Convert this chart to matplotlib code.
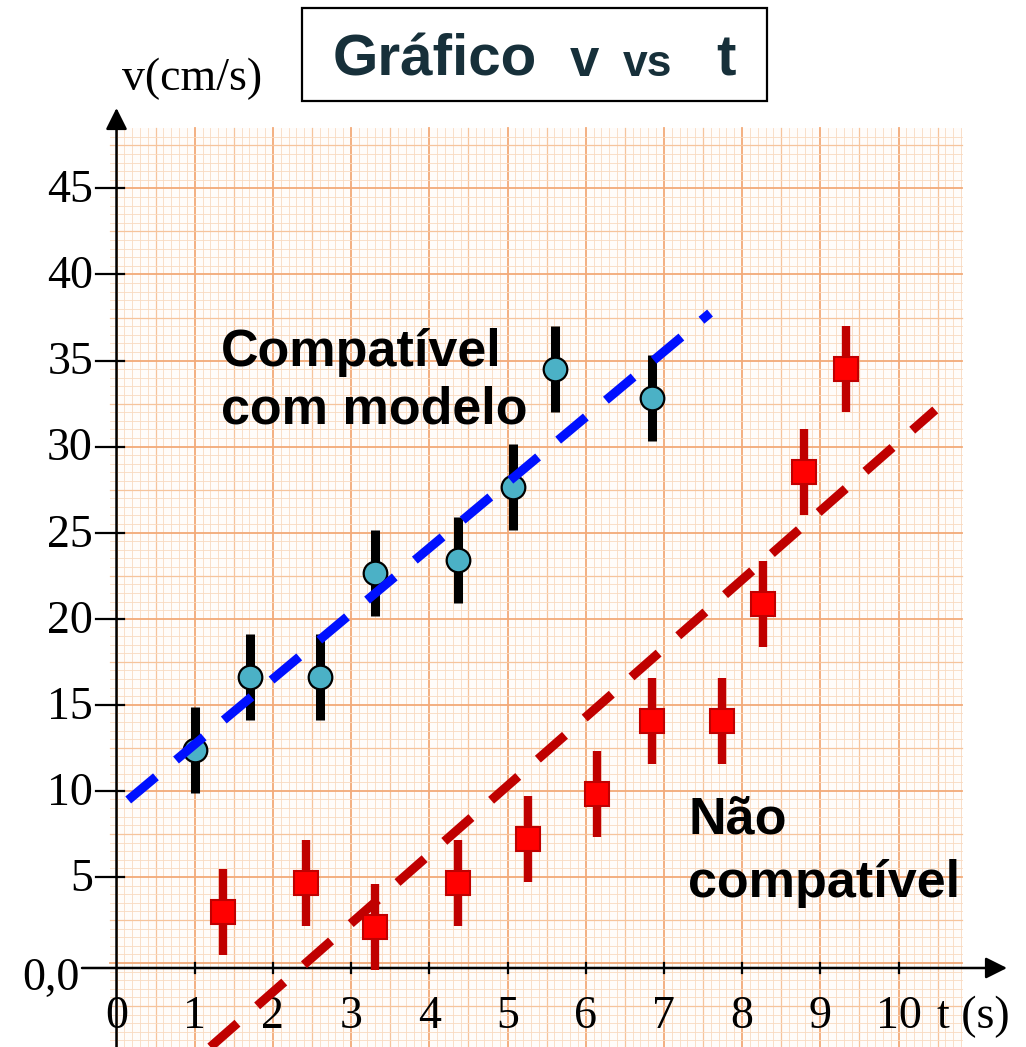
"""
Grafico v vs t on graph paper: compatible vs non-compatible data sets.
"""
import numpy as np
import matplotlib
matplotlib.use("Agg")
import matplotlib.pyplot as plt
from matplotlib.patches import Rectangle

W, H = 1026, 1047

# data (t in s, v in cm/s)
t_comp = [1.00, 1.71, 2.60, 3.31, 4.37, 5.07, 5.61, 6.85]
v_comp = [12.37, 16.62, 16.62, 22.66, 23.41, 27.65, 34.51, 32.82]
t_nao = [1.36, 2.42, 3.31, 4.37, 5.26, 6.14, 6.85, 7.74, 8.27, 8.79, 9.33]
v_nao = [2.96, 4.65, 2.09, 4.65, 7.20, 9.82, 14.06, 14.06, 20.86, 28.53, 34.51]
v_err = 2.5

fit_comp_t = [0.15, 7.59]
fit_comp_v = [9.47, 37.76]
fit_nao_t = [1.20, 10.47]
fit_nao_v = [-4.88, 32.13]

x_ticks = list(range(0, 11))
x_labels = ["0", "1", "2", "3", "4", "5", "6", "7", "8", "9", "10"]
y_ticks = [5, 10, 15, 20, 25, 30, 35, 40, 45]
y_labels = ["5", "10", "15", "20", "25", "30", "35", "40", "45"]

# pixel scale of the drawing
PX_T = 78.2      # px per second
PX_V = 17.213    # px per cm/s
X0, Y0 = 116.5, 963.0
AXIS_V = -0.29   # hand-drawn time axis sits a little under v = 0

def fx(px):
    return px / W

def fy(py):
    return 1 - py / H

SERIF = "Liberation Serif"
SANS = "Liberation Sans"

fig = plt.figure(figsize=(W / 100, H / 100), dpi=100)
ax = fig.add_axes([0, 0, 1, 1])
ax.set_xlim(-X0 / PX_T, (W - X0) / PX_T)
ax.set_ylim((Y0 - H) / PX_V, Y0 / PX_V)
ax.axis("off")

# graph paper
g_t0, g_t1 = -0.08, 10.81
g_v0, g_v1 = -5.0, 48.5
ax.add_patch(Rectangle((g_t0, g_v0), g_t1 - g_t0, g_v1 - g_v0,
                       facecolor="#FFFCFA", edgecolor="none", zorder=0))
tt = np.round(np.arange(0, 10.81, 0.1), 2)
vv = np.round(np.arange(-4.5, 48.5, 0.5), 2)

def paper_style(k):
    if k % 10 == 0:
        return "#F2AA78", 1.3
    if k % 5 == 0:
        return "#F6C49C", 0.9
    return "#F9DAC0", 0.6

for t in tt:
    c, lw = paper_style(int(round(t * 10)))
    ax.plot([t, t], [g_v0, g_v1], color=c, lw=lw, zorder=1)
for v in vv:
    c, lw = paper_style(int(round(v * 2)))
    ax.plot([g_t0, g_t1], [v, v], color=c, lw=lw, zorder=1)

# axes with arrows
arrow = dict(arrowstyle="-|>,head_length=1.3,head_width=0.65", lw=1.8,
             color="black", mutation_scale=10, shrinkA=0, shrinkB=0)
ax.annotate("", xy=((1007 - X0) / PX_T, AXIS_V),
            xytext=((82 - X0) / PX_T, AXIS_V), arrowprops=arrow, zorder=5)
ax.annotate("", xy=(0, (Y0 - 108) / PX_V), xytext=(0, (Y0 - H) / PX_V),
            arrowprops=arrow, zorder=5)

for t, lab in zip(x_ticks, x_labels):
    if t > 0:
        ax.plot([t, t], [AXIS_V - 0.3, AXIS_V + 0.3], color="black", lw=1.6, zorder=5)
    ax.text(t, -3.15, lab, family=SERIF, fontsize=33, ha="center", va="center")
for v, lab in zip(y_ticks, y_labels):
    ax.plot([-0.26, 0.1], [v, v], color="black", lw=1.6, zorder=5)
    ax.text(-0.3, v - 0.15, lab, family=SERIF, fontsize=33, ha="right", va="center")
ax.text(-0.47, -0.9, "0,0", family=SERIF, fontsize=33, ha="right", va="center")
ax.text((937 - X0) / PX_T, -3.15, "t (s)", family=SERIF, fontsize=33,
        ha="left", va="center")
ax.text((122 - X0) / PX_T, (Y0 - 90) / PX_V, "v(cm/s)", family=SERIF,
        fontsize=33, ha="left", va="baseline")

# compatible set
ax.errorbar(t_comp, v_comp, yerr=v_err, fmt="none", ecolor="black",
            elinewidth=6.5, capsize=0, zorder=6)
ax.plot(t_comp, v_comp, "o", ms=17, mfc="#4BB1C6", mec="black", mew=1.6, zorder=7)
ax.plot(fit_comp_t, fit_comp_v, color="#0010FF", lw=6.5, dashes=(4.0, 2.9),
        dash_capstyle="butt", zorder=8)

# non-compatible set
ax.plot(fit_nao_t, fit_nao_v, color="#C00000", lw=6.5, dashes=(4.0, 2.9),
        dash_capstyle="butt", zorder=6)
ax.errorbar(t_nao, v_nao, yerr=v_err, fmt="none", ecolor="#C00000",
            elinewidth=6, capsize=0, zorder=6)
ax.plot(t_nao, v_nao, "s", ms=17.5, mfc="#FF0000", mec="#C00000", mew=1.5, zorder=7)

# annotations
for txt, px, py in [("Compatível", 221, 366), ("com modelo", 221, 424),
                    ("Não", 688, 834), ("compatível", 688, 897)]:
    fig.text(fx(px), fy(py), txt, family=SANS, weight="bold",
             fontsize=37.5, color="black", va="baseline")

# title box
fig.add_artist(Rectangle((fx(302), fy(101)), fx(767) - fx(302), fy(8) - fy(101),
                         transform=fig.transFigure, facecolor="white",
                         edgecolor="black", lw=1.6))
TITLE_C = "#17303A"
for txt, px, size in [("Gráfico", 333, 42), ("v", 570, 38),
                      ("vs", 623, 32), ("t", 716, 42)]:
    fig.text(fx(px), fy(76), txt, family=SANS, weight="bold",
             fontsize=size, color=TITLE_C, va="baseline")

fig.savefig("out.png", dpi=100, facecolor="white")
